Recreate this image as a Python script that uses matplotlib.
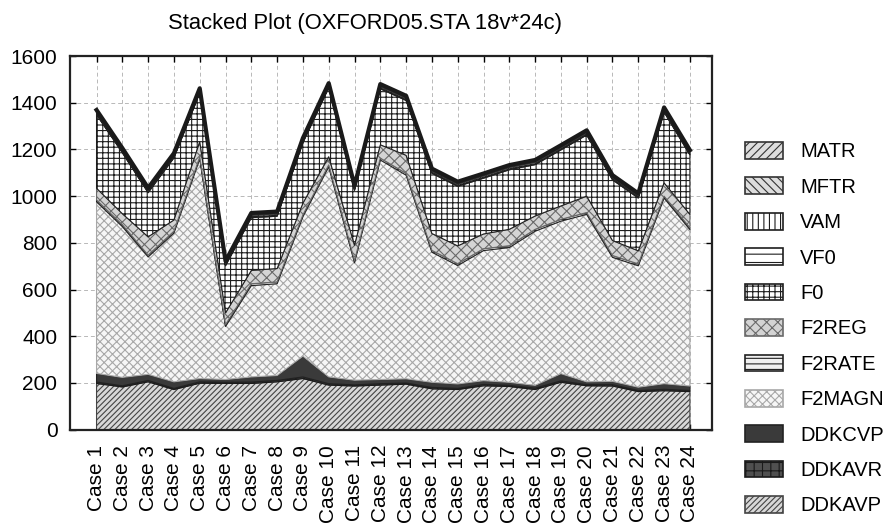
import numpy as np
import matplotlib
matplotlib.use("Agg")
import matplotlib.pyplot as plt
from matplotlib.patches import Patch

plt.rcParams['font.family'] = ['Liberation Sans', 'DejaVu Sans']
plt.rcParams['hatch.linewidth'] = 0.8

cases = ["Case %d" % i for i in range(1, 25)]

# layers from bottom to top
ddkavp = [198, 183, 205, 172, 199, 198, 198, 205, 219, 191, 187, 191,
          195, 175, 172, 188, 185, 172, 203, 188, 187, 163, 167, 163]
ddkavr = [6, 5, 6, 5, 6, 5, 6, 6, 7, 6, 5, 6, 5, 6, 5, 6, 5, 6, 6, 5, 6, 5, 6, 5]
ddkcvp = [37, 36, 26, 28, 14, 12, 22, 21, 89, 29, 20, 18,
          18, 22, 19, 16, 13, 12, 31, 12, 14, 14, 24, 19]
f2magn = [735, 646, 503, 637, 941, 227, 391, 393, 597, 900, 503, 940,
          872, 557, 507, 557, 577, 660, 653, 717, 531, 520, 795, 670]
f2rate = [8] * 24
f2reg = [50, 47, 78, 48, 66, 50, 57, 57, 50, 35, 67, 57,
         77, 72, 76, 63, 70, 57, 57, 70, 64, 56, 57, 57]
f0 = [315, 261, 189, 266, 208, 202, 226, 224, 259, 295, 235, 240,
      235, 258, 255, 239, 255, 220, 240, 262, 260, 226, 303, 255]
vf0 = [4] * 24
vam = [6] * 24
mftr = [4] * 24
matr = [6] * 24

names = ["DDKAVP", "DDKAVR", "DDKCVP", "F2MAGN", "F2RATE", "F2REG",
         "F0", "VF0", "VAM", "MFTR", "MATR"]
layers = [ddkavp, ddkavr, ddkcvp, f2magn, f2rate, f2reg, f0, vf0, vam, mftr, matr]

# (facecolor, hatch, hatch/edge colour)
styles = {
    "DDKAVP": ("#d8d8d8", "//////", "#444444"),
    "DDKAVR": ("#505050", "++", "#1a1a1a"),
    "DDKCVP": ("#3a3a3a", "", "#222222"),
    "F2MAGN": ("#f6f6f6", "xxxx", "#a8a8a8"),
    "F2RATE": ("#f0f0f0", "---", "#222222"),
    "F2REG": ("#d4d4d4", "xxx", "#6a6a6a"),
    "F0": ("#ffffff", "+++", "#1e1e1e"),
    "VF0": ("#ffffff", "--", "#1e1e1e"),
    "VAM": ("#ffffff", "|||", "#1e1e1e"),
    "MFTR": ("#dddddd", "\\\\\\\\", "#333333"),
    "MATR": ("#dddddd", "////", "#333333"),
}

x = np.arange(1, 25)

fig = plt.figure(figsize=(8.89, 5.24), dpi=100)
ax = fig.add_axes([0.0787, 0.180, 0.722, 0.713])

bottom = np.zeros(24)
for name, vals in zip(names, layers):
    vals = np.array(vals, dtype=float)
    fc, hatch, ec = styles[name]
    ax.fill_between(x, bottom, bottom + vals, facecolor=fc, hatch=hatch,
                    edgecolor=ec, linewidth=0.8, zorder=2)
    bottom = bottom + vals

# dark outline along the top of the stack
ax.plot(x, bottom, color="#1a1a1a", linewidth=3, zorder=3)

ax.set_xlim(-0.03, 24.85)
ax.set_ylim(0, 1600)
ax.set_yticks(np.arange(0, 1601, 200))
ax.set_xticks(x)
ax.set_xticklabels(cases, rotation=90, fontsize=15)
ax.tick_params(axis='y', labelsize=15, pad=9)
ax.tick_params(axis='x', pad=11)
ax.tick_params(direction='in', top=True, right=True, length=4, width=1)
ax.grid(True, linestyle=(0, (4, 3)), color="#b8b8b8", linewidth=0.7)
ax.set_axisbelow(True)
for s in ax.spines.values():
    s.set_linewidth(1.6)
    s.set_color("#222222")

fig.text(0.411, 0.956, "Stacked Plot (OXFORD05.STA 18v*24c)", ha='center',
         va='center', fontsize=15.8)

handles = []
for name in names[::-1]:
    fc, hatch, ec = styles[name]
    handles.append(Patch(facecolor=fc, hatch=hatch, edgecolor=ec,
                         linewidth=1.2, label=name))
fig.legend(handles=handles, loc='upper left', bbox_to_anchor=(0.838, 0.729),
           frameon=False, fontsize=14.5, handlelength=1.9, handleheight=0.9,
           labelspacing=0.8, handletextpad=0.85, borderpad=0,
           borderaxespad=0)

fig.savefig("out.png", dpi=100)
